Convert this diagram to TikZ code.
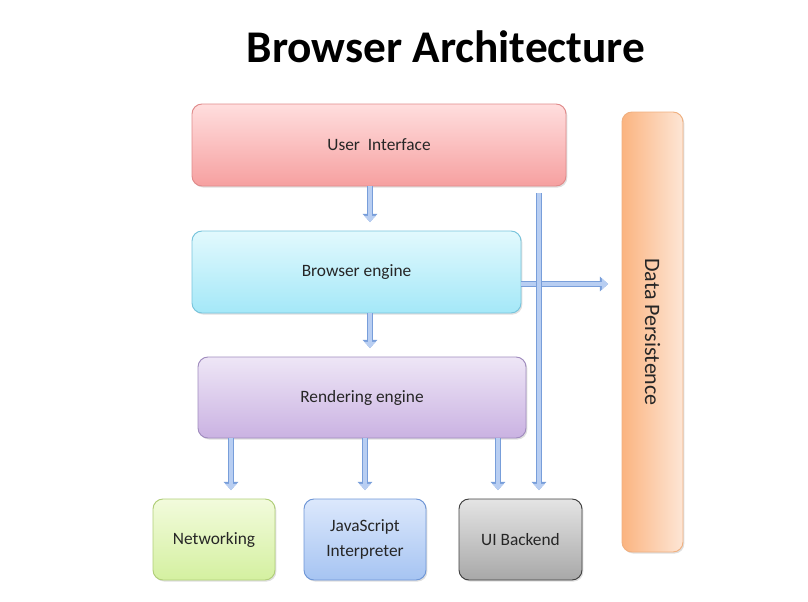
\documentclass[tikz,border=0pt]{standalone}
\usepackage{fontspec}
\setmainfont{Carlito}
\usetikzlibrary{arrows.meta}
\usetikzlibrary{shadows}
\usetikzlibrary{calc}

\definecolor{pipeline}{RGB}{120,158,218}
\definecolor{pipefill}{RGB}{184,206,242}
\definecolor{txtgray}{RGB}{38,38,38}

\tikzset{
  box/.style={draw, rounded corners=7.5pt, line width=0.7pt, align=center,
    text=txtgray, font=\fontsize{13}{19}\selectfont,
    drop shadow={opacity=0.25, shadow xshift=1pt, shadow yshift=-1.2pt}},
  pipe/.style={draw=pipefill, line width=3.4pt, shorten >=1.1pt,
    -{Triangle[width=8pt,length=4.6pt]},
    preaction={draw=pipeline, line width=5.2pt, -{Triangle[width=10.8pt,length=6.2pt]}}},
}

\begin{document}
\begin{tikzpicture}[x=0.75pt,y=0.75pt,yscale=-1,xscale=1]
\useasboundingbox (0,0) rectangle (808,601);

% Title
\node (title) at (446,47) {\fontsize{34}{38}\selectfont\bfseries Browser Architecture};

% Boxes
\node[box, draw={rgb,255:red,224;green,139;blue,139},
  top color={rgb,255:red,255;green,222;blue,222}, bottom color={rgb,255:red,246;green,160;blue,160},
  minimum width=280.5pt, minimum height=61.5pt] (ui) at (379,145) {User\ \ Interface};
\node[box, draw={rgb,255:red,120;green,196;blue,220},
  top color={rgb,255:red,226;green,249;blue,253}, bottom color={rgb,255:red,164;green,232;blue,248},
  minimum width=246.75pt, minimum height=61.5pt] (be) at (356.5,272) {Browser engine};
\node[box, draw={rgb,255:red,160;green,140;blue,190},
  top color={rgb,255:red,238;green,230;blue,246}, bottom color={rgb,255:red,202;green,178;blue,226},
  minimum width=246pt, minimum height=60.75pt] (re) at (362,397.5) {Rendering engine};
\node[box, draw={rgb,255:red,176;green,206;blue,120},
  top color={rgb,255:red,242;green,251;blue,220}, bottom color={rgb,255:red,212;green,240;blue,160},
  minimum width=91.5pt, minimum height=60.75pt] (net) at (214,539.5) {Networking};
\node[box, draw={rgb,255:red,110;green,150;blue,214},
  top color={rgb,255:red,220;green,232;blue,252}, bottom color={rgb,255:red,166;green,196;blue,242},
  minimum width=91.5pt, minimum height=60.75pt] (js) at (365,539.5) {JavaScript\\Interpreter};
\node[box, draw={rgb,255:red,64;green,64;blue,64},
  top color={rgb,255:red,228;green,228;blue,228}, bottom color={rgb,255:red,168;green,168;blue,168},
  minimum width=92.25pt, minimum height=60.75pt] (uib) at (520.5,539.5) {UI Backend};
\node[box, draw={rgb,255:red,240;green,176;blue,128},
  left color={rgb,255:red,251;green,180;blue,128}, right color={rgb,255:red,253;green,230;blue,214},
  minimum width=45.75pt, minimum height=330pt] (dp) at (652.5,332) {};
\node[rotate=-90, text=txtgray, font=\fontsize{16.5}{18}\selectfont] (dptext) at (dp.center) {Data Persistence};

% Columns of the arrows
\coordinate (xmid) at (370,0);
\coordinate (xnet) at (231,0);
\coordinate (xjs) at (365,0);
\coordinate (xuib) at (498,0);
\coordinate (xlong) at (539,0);

% Arrows (yshift runs downwards here, yscale=-1)
\draw[pipe] (ui.south -| xmid) -- ([yshift=-5.25pt]be.north -| xmid);
\draw[pipe] (be.south -| xmid) -- ([yshift=-5.25pt]re.north -| xmid);
\draw[pipe] (re.south -| xnet) -- ([yshift=-5.25pt]net.north -| xnet);
\draw[pipe] (re.south -| xjs) -- ([yshift=-5.25pt]js.north -| xjs);
\draw[pipe] (re.south -| xuib) -- ([yshift=-5.25pt]uib.north -| xuib);
\draw[pipe] ([yshift=9pt]be.east) -- ([yshift=9pt,xshift=-9pt]be.east -| dp.west);
\draw[pipe] ([yshift=5.25pt]ui.south -| xlong) -- ([yshift=-5.25pt]uib.north -| xlong);

\end{tikzpicture}
\end{document}
